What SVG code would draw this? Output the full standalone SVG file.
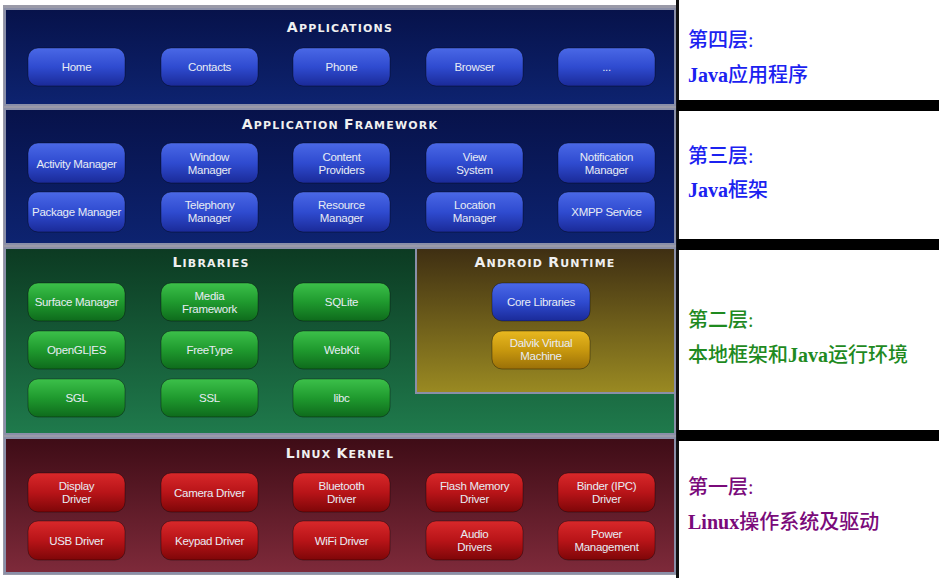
<svg xmlns="http://www.w3.org/2000/svg" width="947" height="578" viewBox="0 0 947 578">
<defs>
<linearGradient id="bgBlue" x1="0" y1="0" x2="0" y2="1"><stop offset="0" stop-color="#07124a"/><stop offset="1" stop-color="#0d2370"/></linearGradient>
<linearGradient id="bgGreen" x1="0" y1="0" x2="0" y2="1"><stop offset="0" stop-color="#0c3a22"/><stop offset="1" stop-color="#1f7a4c"/></linearGradient>
<linearGradient id="bgOlive" x1="0" y1="0" x2="0" y2="1"><stop offset="0" stop-color="#3e2e12"/><stop offset="1" stop-color="#9a8a22"/></linearGradient>
<linearGradient id="bgRed" x1="0" y1="0" x2="0" y2="1"><stop offset="0" stop-color="#3e0c16"/><stop offset="1" stop-color="#7e2a3a"/></linearGradient>
<linearGradient id="btBlue" x1="0" y1="0" x2="0" y2="1"><stop offset="0" stop-color="#4a68e6"/><stop offset="0.5" stop-color="#2f4bd0"/><stop offset="1" stop-color="#1a2a98"/></linearGradient>
<linearGradient id="btGreen" x1="0" y1="0" x2="0" y2="1"><stop offset="0" stop-color="#3cc04a"/><stop offset="0.5" stop-color="#1f9a2e"/><stop offset="1" stop-color="#0e6a1c"/></linearGradient>
<linearGradient id="btGold" x1="0" y1="0" x2="0" y2="1"><stop offset="0" stop-color="#e8b820"/><stop offset="0.5" stop-color="#c8980e"/><stop offset="1" stop-color="#9a7008"/></linearGradient>
<linearGradient id="btRed" x1="0" y1="0" x2="0" y2="1"><stop offset="0" stop-color="#d8282a"/><stop offset="0.5" stop-color="#b81418"/><stop offset="1" stop-color="#7e0608"/></linearGradient>
</defs>
<style>
.layer{stroke:#8a8fa8;stroke-width:2}
.bt{stroke:rgba(0,0,0,0.35);stroke-width:1}
.bl{fill:url(#btBlue)}
.gr{fill:url(#btGreen)}
.go{fill:url(#btGold)}
.rd{fill:url(#btRed)}
.bt-t{font-family:"Liberation Sans",Arial,sans-serif;font-size:11.5px;fill:#e8ecf4;text-anchor:middle;letter-spacing:-0.3px}
.title{font-family:"DejaVu Sans","Liberation Sans",sans-serif;font-weight:bold;fill:#f0f0f0;text-anchor:middle;font-size:11px;letter-spacing:1.2px}
.big{font-size:14px}
.lab{font-family:"Liberation Serif","Noto Sans CJK SC",serif;font-size:20px;font-weight:500}
.lat{font-weight:bold}
.blue{fill:#1b22f0}
.green{fill:#1f8a1f}
.purple{fill:#7a0a7a}
</style>
<rect x="0" y="0" width="947" height="578" fill="#ffffff"/>
<rect x="3" y="5" width="674" height="570" fill="#9a9aa8"/>
<g id="layer-applications">
<rect class="layer" x="5" y="9" width="670" height="96" fill="url(#bgBlue)"/>
<text class="title" x="340" y="32"><tspan class="big">A</tspan>PPLICATIONS</text>
</g>
<g id="layer-framework">
<rect class="layer" x="5" y="109" width="670" height="135" fill="url(#bgBlue)"/>
<text class="title" x="340" y="129"><tspan class="big">A</tspan>PPLICATION <tspan class="big">F</tspan>RAMEWORK</text>
</g>
<g id="layer-libraries">
<rect class="layer" x="5" y="248" width="670" height="186" fill="url(#bgGreen)"/>
<text class="title" x="211" y="267"><tspan class="big">L</tspan>IBRARIES</text>
</g>
<g id="layer-runtime">
<rect class="layer" x="416" y="248" width="259" height="145" fill="url(#bgOlive)"/>
<text class="title" x="545" y="267"><tspan class="big">A</tspan>NDROID <tspan class="big">R</tspan>UNTIME</text>
</g>
<g id="layer-kernel">
<rect class="layer" x="5" y="438" width="670" height="135" fill="url(#bgRed)"/>
<text class="title" x="340" y="458"><tspan class="big">L</tspan>INUX <tspan class="big">K</tspan>ERNEL</text>
</g>
<g id="app-home"><rect class="bt bl" x="28" y="48" width="97" height="38" rx="10"/><text class="bt-t" x="76.5" y="71">Home</text></g>
<g id="app-contacts"><rect class="bt bl" x="161" y="48" width="97" height="38" rx="10"/><text class="bt-t" x="209.5" y="71">Contacts</text></g>
<g id="app-phone"><rect class="bt bl" x="293" y="48" width="97" height="38" rx="10"/><text class="bt-t" x="341.5" y="71">Phone</text></g>
<g id="app-browser"><rect class="bt bl" x="426" y="48" width="97" height="38" rx="10"/><text class="bt-t" x="474.5" y="71">Browser</text></g>
<g id="app-more"><rect class="bt bl" x="558" y="48" width="97" height="38" rx="10"/><text class="bt-t" x="606.5" y="71">...</text></g>
<g id="fw-activity"><rect class="bt bl" x="28" y="143" width="97" height="40" rx="10"/><text class="bt-t" x="76.5" y="168">Activity Manager</text></g>
<g id="fw-window"><rect class="bt bl" x="161" y="143" width="97" height="40" rx="10"/><text class="bt-t" x="209.5" y="161">Window</text><text class="bt-t" x="209.5" y="174">Manager</text></g>
<g id="fw-content"><rect class="bt bl" x="293" y="143" width="97" height="40" rx="10"/><text class="bt-t" x="341.5" y="161">Content</text><text class="bt-t" x="341.5" y="174">Providers</text></g>
<g id="fw-view"><rect class="bt bl" x="426" y="143" width="97" height="40" rx="10"/><text class="bt-t" x="474.5" y="161">View</text><text class="bt-t" x="474.5" y="174">System</text></g>
<g id="fw-notification"><rect class="bt bl" x="558" y="143" width="97" height="40" rx="10"/><text class="bt-t" x="606.5" y="161">Notification</text><text class="bt-t" x="606.5" y="174">Manager</text></g>
<g id="fw-package"><rect class="bt bl" x="28" y="192" width="97" height="40" rx="10"/><text class="bt-t" x="76.5" y="216">Package Manager</text></g>
<g id="fw-telephony"><rect class="bt bl" x="161" y="192" width="97" height="40" rx="10"/><text class="bt-t" x="209.5" y="209">Telephony</text><text class="bt-t" x="209.5" y="222">Manager</text></g>
<g id="fw-resource"><rect class="bt bl" x="293" y="192" width="97" height="40" rx="10"/><text class="bt-t" x="341.5" y="209">Resource</text><text class="bt-t" x="341.5" y="222">Manager</text></g>
<g id="fw-location"><rect class="bt bl" x="426" y="192" width="97" height="40" rx="10"/><text class="bt-t" x="474.5" y="209">Location</text><text class="bt-t" x="474.5" y="222">Manager</text></g>
<g id="fw-xmpp"><rect class="bt bl" x="558" y="192" width="97" height="40" rx="10"/><text class="bt-t" x="606.5" y="216">XMPP Service</text></g>
<g id="lib-surface"><rect class="bt gr" x="28" y="283" width="97" height="38" rx="10"/><text class="bt-t" x="76.5" y="306">Surface Manager</text></g>
<g id="lib-media"><rect class="bt gr" x="161" y="283" width="97" height="38" rx="10"/><text class="bt-t" x="209.5" y="300">Media</text><text class="bt-t" x="209.5" y="313">Framework</text></g>
<g id="lib-sqlite"><rect class="bt gr" x="293" y="283" width="97" height="38" rx="10"/><text class="bt-t" x="341.5" y="306">SQLite</text></g>
<g id="lib-opengl"><rect class="bt gr" x="28" y="331" width="97" height="38" rx="10"/><text class="bt-t" x="76.5" y="354">OpenGL|ES</text></g>
<g id="lib-freetype"><rect class="bt gr" x="161" y="331" width="97" height="38" rx="10"/><text class="bt-t" x="209.5" y="354">FreeType</text></g>
<g id="lib-webkit"><rect class="bt gr" x="293" y="331" width="97" height="38" rx="10"/><text class="bt-t" x="341.5" y="354">WebKit</text></g>
<g id="lib-sgl"><rect class="bt gr" x="28" y="379" width="97" height="38" rx="10"/><text class="bt-t" x="76.5" y="402">SGL</text></g>
<g id="lib-ssl"><rect class="bt gr" x="161" y="379" width="97" height="38" rx="10"/><text class="bt-t" x="209.5" y="402">SSL</text></g>
<g id="lib-libc"><rect class="bt gr" x="293" y="379" width="97" height="38" rx="10"/><text class="bt-t" x="341.5" y="402">libc</text></g>
<g id="rt-core"><rect class="bt bl" x="492" y="283" width="98" height="38" rx="10"/><text class="bt-t" x="541" y="306">Core Libraries</text></g>
<g id="rt-dalvik"><rect class="bt go" x="492" y="331" width="98" height="38" rx="10"/><text class="bt-t" x="541" y="347">Dalvik Virtual</text><text class="bt-t" x="541" y="360">Machine</text></g>
<g id="k-display"><rect class="bt rd" x="28" y="473" width="97" height="39" rx="10"/><text class="bt-t" x="76.5" y="490">Display</text><text class="bt-t" x="76.5" y="503">Driver</text></g>
<g id="k-camera"><rect class="bt rd" x="161" y="473" width="97" height="39" rx="10"/><text class="bt-t" x="209.5" y="497">Camera Driver</text></g>
<g id="k-bluetooth"><rect class="bt rd" x="293" y="473" width="97" height="39" rx="10"/><text class="bt-t" x="341.5" y="490">Bluetooth</text><text class="bt-t" x="341.5" y="503">Driver</text></g>
<g id="k-flash"><rect class="bt rd" x="426" y="473" width="97" height="39" rx="10"/><text class="bt-t" x="474.5" y="490">Flash Memory</text><text class="bt-t" x="474.5" y="503">Driver</text></g>
<g id="k-binder"><rect class="bt rd" x="558" y="473" width="97" height="39" rx="10"/><text class="bt-t" x="606.5" y="490">Binder (IPC)</text><text class="bt-t" x="606.5" y="503">Driver</text></g>
<g id="k-usb"><rect class="bt rd" x="28" y="521" width="97" height="39" rx="10"/><text class="bt-t" x="76.5" y="545">USB Driver</text></g>
<g id="k-keypad"><rect class="bt rd" x="161" y="521" width="97" height="39" rx="10"/><text class="bt-t" x="209.5" y="545">Keypad Driver</text></g>
<g id="k-wifi"><rect class="bt rd" x="293" y="521" width="97" height="39" rx="10"/><text class="bt-t" x="341.5" y="545">WiFi Driver</text></g>
<g id="k-audio"><rect class="bt rd" x="426" y="521" width="97" height="39" rx="10"/><text class="bt-t" x="474.5" y="538">Audio</text><text class="bt-t" x="474.5" y="551">Drivers</text></g>
<g id="k-power"><rect class="bt rd" x="558" y="521" width="97" height="39" rx="10"/><text class="bt-t" x="606.5" y="538">Power</text><text class="bt-t" x="606.5" y="551">Management</text></g>
<g id="dividers">
<rect x="676" y="0" width="3" height="578" fill="#111"/>
<rect x="677" y="100" width="262" height="11" fill="#000"/>
<rect x="677" y="239" width="262" height="11" fill="#000"/>
<rect x="677" y="430" width="262" height="11" fill="#000"/>
</g>
<g id="labels">
<text class="lab blue" x="688" y="47">第四层:</text>
<text class="lab blue" x="688" y="82"><tspan class="lat">Java</tspan>应用程序</text>
<text class="lab blue" x="688" y="163">第三层:</text>
<text class="lab blue" x="688" y="197"><tspan class="lat">Java</tspan>框架</text>
<text class="lab green" x="688" y="327">第二层:</text>
<text class="lab green" x="688" y="362">本地框架和<tspan class="lat">Java</tspan>运行环境</text>
<text class="lab purple" x="688" y="494">第一层:</text>
<text class="lab purple" x="688" y="529"><tspan class="lat">Linux</tspan>操作系统及驱动</text>
</g>
</svg>
